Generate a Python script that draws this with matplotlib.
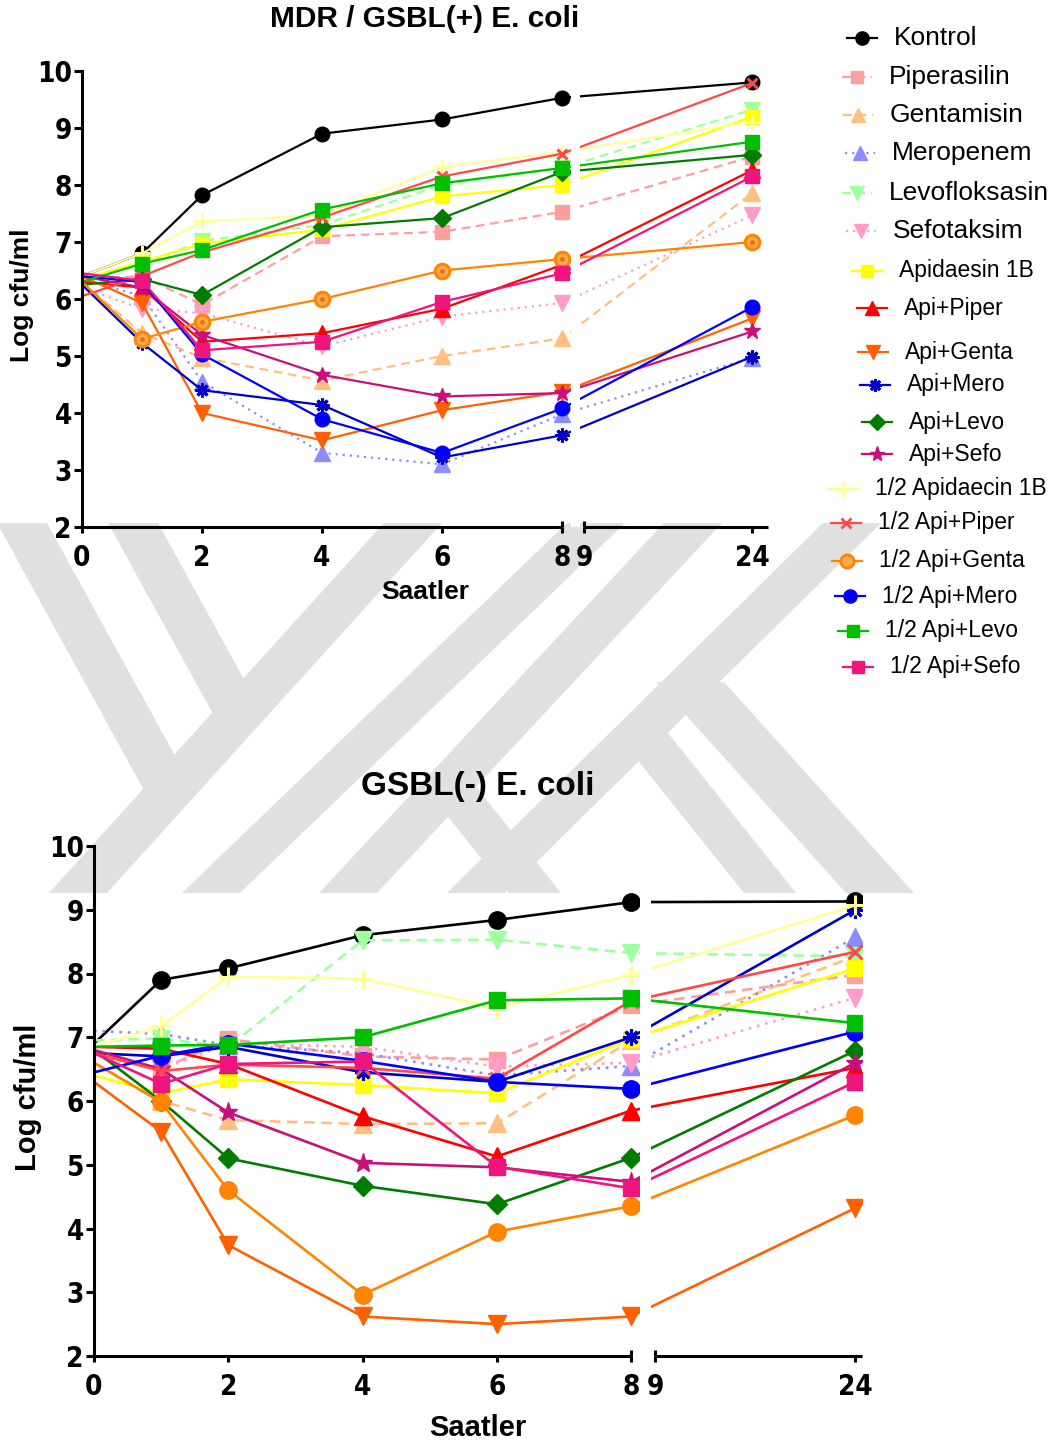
import numpy as np
import matplotlib
matplotlib.use("Agg")
import matplotlib.pyplot as plt
from matplotlib.patches import Polygon
from matplotlib import font_manager

# --- time points (hours)
hours = [0, 1, 2, 4, 6, 8, 24]

labels = ["Kontrol", "Piperasilin", "Gentamisin", "Meropenem", "Levofloksasin",
          "Sefotaksim", "Apidaesin 1B", "Api+Piper", "Api+Genta", "Api+Mero",
          "Api+Levo", "Api+Sefo", "1/2 Apidaecin 1B", "1/2 Api+Piper",
          "1/2 Api+Genta", "1/2 Api+Mero", "1/2 Api+Levo", "1/2 Api+Sefo"]

# --- MDR / GSBL(+) E. coli, log cfu/ml
mdr_kontrol = [6.4, 6.8, 7.82, 8.9, 9.15, 9.53, 9.8]
mdr_piperasilin = [6.35, 6.4, 5.9, 7.1, 7.18, 7.53, 8.5]
mdr_gentamisin = [6.3, 5.4, 4.97, 4.57, 5.0, 5.31, 7.86]
mdr_meropenem = [6.35, 6.05, 4.55, 3.3, 3.1, 3.98, 4.97]
mdr_levofloksasin = [6.35, 6.6, 7.02, 7.3, 8.0, 8.3, 9.32]
mdr_sefotaksim = [6.2, 5.83, 5.75, 5.17, 5.69, 5.93, 7.47]
mdr_apidaesin = [6.35, 6.65, 6.97, 7.22, 7.8, 8.0, 9.2]
mdr_api_piper = [6.3, 6.2, 5.25, 5.4, 5.83, 6.6, 8.26]
mdr_api_genta = [6.4, 5.93, 4.0, 3.52, 4.05, 4.37, 5.66]
mdr_api_mero = [6.25, 5.23, 4.4, 4.14, 3.22, 3.61, 4.99]
mdr_api_levo = [6.25, 6.35, 6.07, 7.26, 7.42, 8.23, 8.53]
mdr_api_sefo = [6.4, 6.2, 5.37, 4.67, 4.29, 4.35, 5.43]
mdr_half_apidaecin = [6.4, 6.8, 7.36, 7.47, 8.32, 8.58, 9.11]
mdr_half_api_piper = [6.05, 6.4, 6.82, 7.43, 8.15, 8.55, 9.79]
mdr_half_api_genta = [6.3, 5.3, 5.6, 6.0, 6.5, 6.7, 7.0]
mdr_half_api_mero = [6.4, 6.3, 5.03, 3.89, 3.3, 4.08, 5.86]
mdr_half_api_levo = [6.3, 6.62, 6.86, 7.57, 8.03, 8.3, 8.76]
mdr_half_api_sefo = [6.45, 6.32, 5.1, 5.25, 5.95, 6.45, 8.15]

# --- GSBL(-) E. coli, log cfu/ml
neg_kontrol = [6.9, 7.9, 8.08, 8.6, 8.84, 9.12, 9.13]
neg_piperasilin = [6.75, 6.5, 6.97, 6.7, 6.65, 7.5, 7.98]
neg_gentamisin = [6.6, 6.0, 5.7, 5.64, 5.65, 6.95, 8.27]
neg_meropenem = [7.1, 7.05, 6.88, 6.75, 6.4, 6.55, 8.57]
neg_levofloksasin = [6.95, 6.98, 6.85, 8.52, 8.53, 8.32, 8.27]
neg_sefotaksim = [6.7, 6.5, 6.9, 6.85, 6.54, 6.6, 7.62]
neg_apidaesin = [6.4, 6.12, 6.34, 6.25, 6.12, 6.98, 8.08]
neg_api_piper = [6.85, 6.82, 6.58, 5.76, 5.13, 5.85, 6.52]
neg_api_genta = [6.3, 5.52, 3.74, 2.62, 2.5, 2.62, 4.32]
neg_api_mero = [6.75, 6.7, 6.85, 6.45, 6.3, 7.0, 9.0]
neg_api_levo = [6.8, 6.0, 5.1, 4.67, 4.38, 5.11, 6.79]
neg_api_sefo = [6.8, 6.5, 5.82, 5.03, 4.96, 4.73, 6.6]
neg_half_apidaecin = [6.85, 7.17, 7.95, 7.92, 7.46, 7.98, 9.07]
neg_half_api_piper = [6.75, 6.47, 6.57, 6.52, 6.35, 7.57, 8.34]
neg_half_api_genta = [6.6, 5.98, 4.6, 2.96, 3.95, 4.35, 5.78]
neg_half_api_mero = [6.45, 6.71, 6.9, 6.63, 6.3, 6.19, 7.09]
neg_half_api_levo = [6.85, 6.87, 6.88, 7.0, 7.58, 7.61, 7.22]
neg_half_api_sefo = [6.75, 6.27, 6.58, 6.62, 4.97, 4.63, 6.3]

mdr_values = [mdr_kontrol, mdr_piperasilin, mdr_gentamisin, mdr_meropenem,
              mdr_levofloksasin, mdr_sefotaksim, mdr_apidaesin, mdr_api_piper,
              mdr_api_genta, mdr_api_mero, mdr_api_levo, mdr_api_sefo,
              mdr_half_apidaecin, mdr_half_api_piper, mdr_half_api_genta,
              mdr_half_api_mero, mdr_half_api_levo, mdr_half_api_sefo]
neg_values = [neg_kontrol, neg_piperasilin, neg_gentamisin, neg_meropenem,
              neg_levofloksasin, neg_sefotaksim, neg_apidaesin, neg_api_piper,
              neg_api_genta, neg_api_mero, neg_api_levo, neg_api_sefo,
              neg_half_apidaecin, neg_half_api_piper, neg_half_api_genta,
              neg_half_api_mero, neg_half_api_levo, neg_half_api_sefo]

# --- styles: colour, marker, linestyle, marker size factor
DASH = (0, (4, 2.5))
DOT = (0, (1, 2.2))
styles = [
    ("#000000", "o", "-", 1.0),
    ("#FF9E9E", "s", DASH, 0.95),
    ("#FFBF80", "^", DASH, 1.05),
    ("#8C8CFF", "^", DOT, 1.05),
    ("#A0FFA0", "v", DASH, 1.05),
    ("#FF9CCC", "v", DOT, 1.05),
    ("#FFFF00", "s", "-", 0.95),
    ("#FF0000", "^", "-", 1.05),
    ("#FF6000", "v", "-", 1.05),
    ("#0000C8", (8, 2, 0), "-", 0.95),
    ("#007D00", "D", "-", 0.85),
    ("#C8107A", "*", "-", 1.15),
    ("#FFFF99", "+", "-", 1.15),
    ("#FF4848", "x", "-", 0.75),
    ("#FF8400", "o", "-", 1.0),
    ("#0000FF", "o", "-", 1.0),
    ("#00BE00", "s", "-", 0.95),
    ("#F0147F", "s", "-", 0.95),
]

W, H = 1062, 1448
fig = plt.figure(figsize=(W / 100, H / 100), dpi=100)

TEXT_FONT = ["Liberation Sans", "DejaVu Sans"]
# tick numbers in the original are a condensed bold face; use one if present
_cond = font_manager.findfont(font_manager.FontProperties(
    family="DejaVu Sans", stretch="condensed", weight="bold"))
if "ondensed" in _cond:
    TICK_FONT, TICK_STRETCH = ["DejaVu Sans"], "condensed"
else:
    TICK_FONT, TICK_STRETCH = TEXT_FONT, "normal"


def px_box(left, top, right, bottom):
    return [left / W, 1 - bottom / H, (right - left) / W, (bottom - top) / H]


def break_funcs(gap, right):
    xs = [-100.0, 0.0, 8.0, 9.0, 300.0]
    ts = [-100.0, 0.0, 8.0, 8.0 + gap, 8.0 + gap + 291.0 * right]
    return (lambda x: np.interp(x, xs, ts)), (lambda t: np.interp(t, ts, xs))


def draw_panel(box, values, gap, right, xend, ms, lw, tick_size, genta_dot):
    ax = fig.add_axes(px_box(*box), zorder=2)
    ax.set_facecolor("none")
    fwd, inv = break_funcs(gap, right)
    ax.set_xscale("function", functions=(fwd, inv))
    ax.set_xlim(0, xend)
    ax.set_ylim(2, 10)

    for i, (vals, (col, mk, ls, f)) in enumerate(zip(values, styles)):
        face = col
        mew = 1.0
        if mk in ("+", "x") or isinstance(mk, tuple):
            mew = 2.2
        if i == 14 and genta_dot:
            face = "#FFAA55"
            mew = 2.2
        ax.plot(hours, vals, color=col, ls=ls, lw=lw, marker=mk,
                ms=ms * f, mfc=face, mec=col, mew=mew,
                markevery=list(range(1, len(hours))), zorder=2 + i * 0.01)
        if i == 14 and genta_dot:
            ax.plot(hours[1:], vals[1:], ls="none", marker="o", ms=2.5,
                    color="#F07000", zorder=2 + i * 0.01 + 0.005)

    # blank the lines where the axis is broken
    ax.axvspan(8.38, 8.82, color="white", zorder=5, lw=0)

    for s in ("top", "right", "bottom"):
        ax.spines[s].set_visible(False)
    ax.spines["left"].set_linewidth(2.2)

    xt = ax.get_xaxis_transform()
    ax.plot([0, 8], [0, 0], color="black", lw=2.2, transform=xt,
            clip_on=False, solid_capstyle="butt", zorder=6)
    ax.plot([9, xend], [0, 0], color="black", lw=2.2, transform=xt,
            clip_on=False, solid_capstyle="butt", zorder=6)
    cap = 6.0 / (box[3] - box[1])
    for xb in (8, 9):
        ax.plot([xb, xb], [0, cap], color="black", lw=2.2, transform=xt,
                clip_on=False, solid_capstyle="butt", zorder=6)

    ax.set_yticks(range(2, 11))
    ax.set_xticks([0, 2, 4, 6, 8, 9, 24])
    ax.set_xticklabels(["0", "2", "4", "6", "8", "9", "24"])
    ax.tick_params(axis="y", direction="out", length=5.8, width=2.2, pad=1.5)
    ax.tick_params(axis="x", direction="out", length=4.5, width=2.2, pad=8)
    for lab in ax.get_xticklabels() + ax.get_yticklabels():
        lab.set_family(TICK_FONT)
        lab.set_stretch(TICK_STRETCH)
        lab.set_fontweight("bold")
        lab.set_fontsize(tick_size)
    return ax


ax1 = draw_panel((82, 71, 768, 527), mdr_values, 22 / 60, 11.2 / 60, 25.4,
                 10.5, 1.6, 20, True)
ax2 = draw_panel((94, 846, 862, 1356), neg_values, 24 / 67.1, 200 / 15 / 67.1,
                 24.5, 12.5, 1.9, 20, False)

# --- titles and axis labels
fig.text(425 / W, 1 - 19 / H, "MDR / GSBL(+) E. coli", ha="center", va="center",
         fontsize=21.5, fontweight="bold", family=TEXT_FONT)
fig.text(478 / W, 1 - 787 / H, "GSBL(-) E. coli", ha="center", va="center",
         fontsize=24, fontweight="bold", family=TEXT_FONT)
fig.text(425 / W, 1 - 592 / H, "Saatler", ha="center", va="center",
         fontsize=19, fontweight="bold", family=TEXT_FONT)
fig.text(478 / W, 1 - 1428 / H, "Saatler", ha="center", va="center",
         fontsize=21, fontweight="bold", family=TEXT_FONT)
fig.text(22 / W, 1 - 295 / H, "Log cfu/ml", ha="center", va="center",
         rotation=90, fontsize=19, fontweight="bold", family=TEXT_FONT)
fig.text(28 / W, 1 - 1097 / H, "Log cfu/ml", ha="center", va="center",
         rotation=90, fontsize=21, fontweight="bold", family=TEXT_FONT)

# --- background layer in pixel space: watermark + legend
lax = fig.add_axes([0, 0, 1, 1], zorder=1)
lax.set_xlim(0, W)
lax.set_ylim(H, 0)
lax.axis("off")

# grey watermark behind the charts (band between y=523 and y=893)
WM_TOP, WM_BOT = 523, 893
WM_COLOR = "#E0E0E0"
# long down-left strokes: x centre at top, x centre at bottom
wm_long = [(413, 78), (596, 211), (693, 348), (852, 476)]
# branches: x centre at ref y, ref y, slope dx/dy, width, stroke joined,
# whether the branch ends at (arm) or starts from (leg) that stroke
wm_branch = [(22, WM_TOP, 0.55, 50, 0, "end"), (133, WM_TOP, 0.55, 50, 0, "end"),
             (535, WM_BOT, 0.8, 52, 2, "start"), (770, WM_BOT, 0.8, 52, 3, "start"),
             (880, WM_BOT, 0.9, 68, 3, "start")]


def stripe(xr, yr, s, w, y0, y1):
    xa = xr + s * (y0 - yr)
    xb = xr + s * (y1 - yr)
    return Polygon([(xa - w / 2, y0), (xa + w / 2, y0), (xb + w / 2, y1),
                    (xb - w / 2, y1)], closed=True, color=WM_COLOR, lw=0,
                   zorder=0.5)


long_slopes = [(xb - xt) / (WM_BOT - WM_TOP) for xt, xb in wm_long]
for (xt, xb), s in zip(wm_long, long_slopes):
    lax.add_patch(stripe(xt, WM_TOP, s, 58, WM_TOP, WM_BOT))
for xr, yr, s, w, j, where in wm_branch:
    xj, sj = wm_long[j][0], long_slopes[j]
    yj = (xj - xr + s * yr - sj * WM_TOP) / (s - sj)
    if where == "end":
        lax.add_patch(stripe(xr, yr, s, w, WM_TOP, yj))
    else:
        lax.add_patch(stripe(xr, yr, s, w, yj, WM_BOT))

leg_y = [38, 77, 115, 153, 193, 231, 271, 308, 352, 385, 422, 454,
         489, 523, 561, 596, 631, 667]
leg_x = [862, 857, 858, 860, 857, 861, 867, 872, 873, 875, 877, 877,
         843, 846, 847, 850, 853, 858]
for i, (lab, (col, mk, ls, f)) in enumerate(zip(labels, styles)):
    x0, y0 = leg_x[i], leg_y[i]
    face = col
    mew = 1.0
    if mk in ("+", "x") or isinstance(mk, tuple):
        mew = 2.0
    if i == 14:
        face = "#FFAA55"
        mew = 2.0
    lax.plot([x0 - 15, x0 + 15], [y0, y0], color=col, ls=ls, lw=1.6, zorder=3)
    lax.plot([x0], [y0], ls="none", marker=mk, ms=9.5 * f, mfc=face,
             mec=col, mew=mew, zorder=4)
    lax.text(x0 + 32, y0, lab, ha="left", va="center",
             fontsize=19 if i < 6 else 16.5, family=TEXT_FONT, zorder=4)

fig.savefig("out.png", dpi=100)
